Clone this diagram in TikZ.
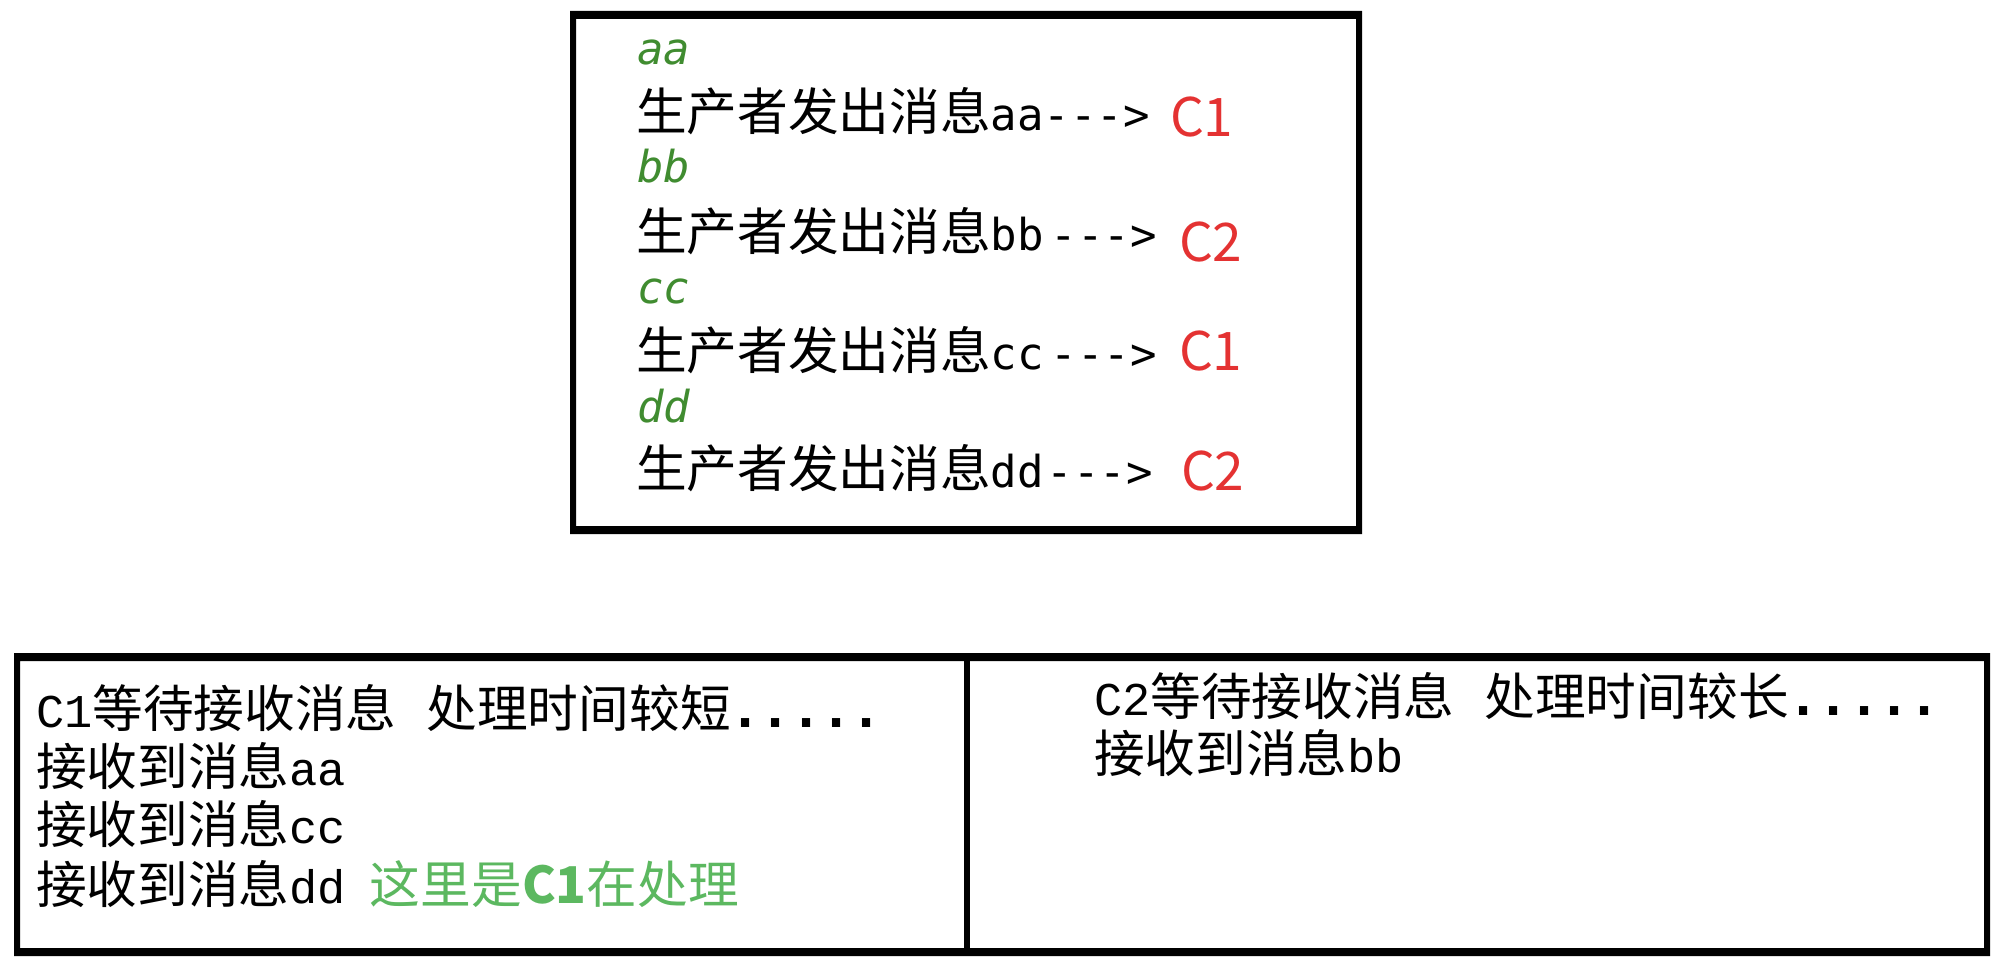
\documentclass[tikz,border=0pt]{standalone}
\usepackage{fontspec}
\setmainfont{Noto Sans CJK SC}
\newfontfamily\monofa{DejaVu Sans Mono}
\newfontfamily\monofb{Liberation Mono}
\definecolor{cred}{RGB}{228,50,50}
\definecolor{cdgreen}{RGB}{64,140,48}
\definecolor{clgreen}{RGB}{92,184,96}
\newcommand\cjkfs{\fontsize{25.35pt}{30pt}\selectfont}
\newcommand\dsh{\mbox{-}}
\newcommand\arr{\dsh\dsh\dsh>}
\newcommand\lata[1]{{\monofa\fontsize{22pt}{26pt}\selectfont #1}}
\newcommand\latb[1]{{\monofb\fontsize{23.5pt}{26pt}\selectfont #1}}
\newcommand\dotsrow{{\monofa\bfseries\fontsize{25pt}{26pt}\selectfont .....}}
\begin{document}
\begin{tikzpicture}[x=0.5pt,y=-0.5pt,
  txt/.style={anchor=base west, inner sep=0pt, outer sep=0pt, font=\cjkfs, text=black},
  lbl/.style={anchor=base west, inner sep=0pt, outer sep=0pt, font=\monofa\itshape\fontsize{22pt}{26pt}\selectfont, text=cdgreen},
  dest/.style={anchor=base west, inner sep=0pt, outer sep=0pt, font=\fontsize{26.6pt}{30pt}\selectfont, text=cred}]
\useasboundingbox (0,0) rectangle (2002,968);
\fill[white] (0,0) rectangle (2002,968);
% top frame
\fill[black, even odd rule] (570,11) rectangle (1362,534) (576,19) rectangle (1356,526);
% bottom frame
\fill[black, even odd rule] (14,653) rectangle (1990,956) (20,661) rectangle (1984,948);
\fill[black] (964,661) rectangle (970,948);
% top texts
\node[lbl] (la) at (637,65) {aa};
\node[txt] (l1) at (636,130.5) {生产者发出消息\lata{aa\arr}};
\node[dest] (d1) at (1170,137) {C1};
\node[lbl] (lb) at (637,183) {bb};
\node[txt] (l2) at (636,250.5) {生产者发出消息\lata{bb\kern3.5pt\arr}};
\node[dest] (d2) at (1179,262) {C2};
\node[lbl] (lc) at (637,303) {cc};
\node[txt] (l3) at (636,369.5) {生产者发出消息\lata{cc\kern3.5pt\arr}};
\node[dest] (d3) at (1179,370) {C1};
\node[lbl] (ld) at (637,422) {dd};
\node[txt] (l4) at (636,487.5) {生产者发出消息\lata{dd\kern1.5pt\arr}};
\node[dest] (d4) at (1181,490) {C2};
% bottom left
\node[txt] (b1) at (36,727) {\latb{C1}等待接收消息\hspace{15pt}处理时间较短\dotsrow};
\node[txt] (b2) at (36,785) {接收到消息\latb{aa}};
\node[txt] (b3) at (36,843) {接收到消息\latb{cc}};
\node[txt] (b4) at (36,903) {接收到消息\latb{dd}\hspace{12pt}\textcolor{clgreen}{这里是{\bfseries C1}在处理}};
% bottom right
\node[txt] (r1) at (1094,715) {\latb{C2}等待接收消息\hspace{15pt}处理时间较长\dotsrow};
\node[txt] (r2) at (1094,772) {接收到消息\latb{bb}};
\end{tikzpicture}
\end{document}
